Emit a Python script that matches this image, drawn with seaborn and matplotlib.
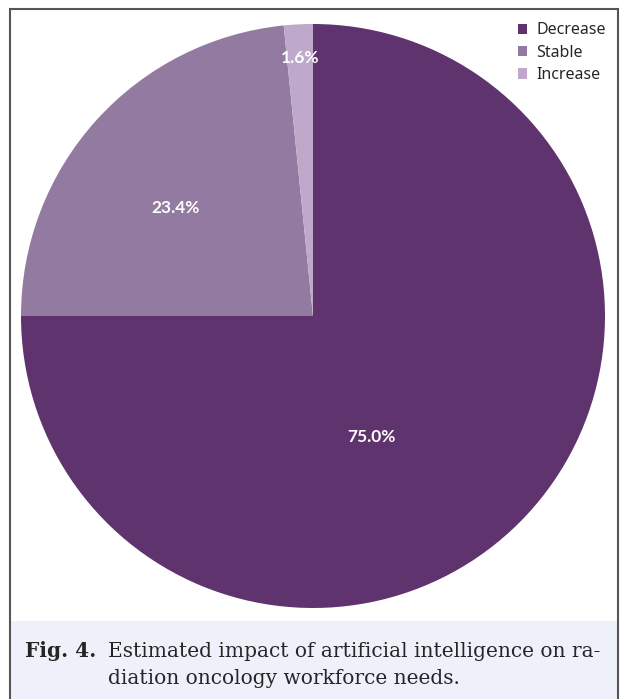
import numpy as np
import seaborn as sns
import matplotlib.pyplot as plt
from matplotlib.patches import Rectangle

categories = ['Decrease', 'Stable', 'Increase']
shares = [75.0, 23.4, 1.6]
colors = ['#5f336e', '#937aa0', '#bea9ca']
caption_bold = 'Fig. 4.'
caption_lines = ['Estimated impact of artificial intelligence on ra-',
                 'diation oncology workforce needs.']

sns.set_style('white')
plt.rcParams['font.family'] = ['Noto Sans', 'DejaVu Sans']

fig = plt.figure(figsize=(6.23, 6.99), dpi=100)

# frame around the whole figure and caption panel
fig.patches.append(Rectangle((10 / 623, 0), 607 / 623, 78 / 699, transform=fig.transFigure,
                             facecolor='#eef1f9', edgecolor='none', zorder=0))
fig.patches.append(Rectangle((9.5 / 623, -0.01), 608 / 623, 690 / 699 + 0.01, transform=fig.transFigure,
                             facecolor='none', edgecolor='#555555', linewidth=1.5, zorder=1))

ax = fig.add_axes([21 / 623, 91 / 699, 584 / 623, 584 / 699])
wedges, _ = ax.pie(shares, colors=colors, startangle=90, counterclock=False,
                   radius=1, wedgeprops=dict(linewidth=0))
ax.set_xlim(-1, 1)
ax.set_ylim(-1, 1)
ax.set_aspect('equal')
ax.axis('off')

# percentage labels (angle offset, radial fraction) per slice
label_place = [(-19, 0.46), (4, 0.60), (0, 0.885)]
for w, val, (dtheta, rfrac) in zip(wedges, shares, label_place):
    mid = np.deg2rad((w.theta1 + w.theta2) / 2 + dtheta)
    ax.text(rfrac * np.cos(mid), rfrac * np.sin(mid), f'{val:.1f}%',
            ha='center', va='center', color='white', fontsize=12.5, fontweight='bold',
            family=['Lato', 'DejaVu Sans'])

leg = ax.legend(wedges, categories, loc='upper right', bbox_to_anchor=(620 / 623, 691 / 699),
                bbox_transform=fig.transFigure, frameon=False, fontsize=11.5,
                handlelength=0.6, handleheight=0.6, handletextpad=0.55, labelspacing=0.4)

fig.text(25 / 623, 42 / 699, caption_bold, fontsize=14.5, fontweight='bold',
         family='DejaVu Serif', va='baseline')
for i, line in enumerate(caption_lines):
    fig.text(108 / 623, (42 - 27 * i) / 699, line, fontsize=14.5,
             family='DejaVu Serif', va='baseline')

fig.savefig('out.png', dpi=100)
